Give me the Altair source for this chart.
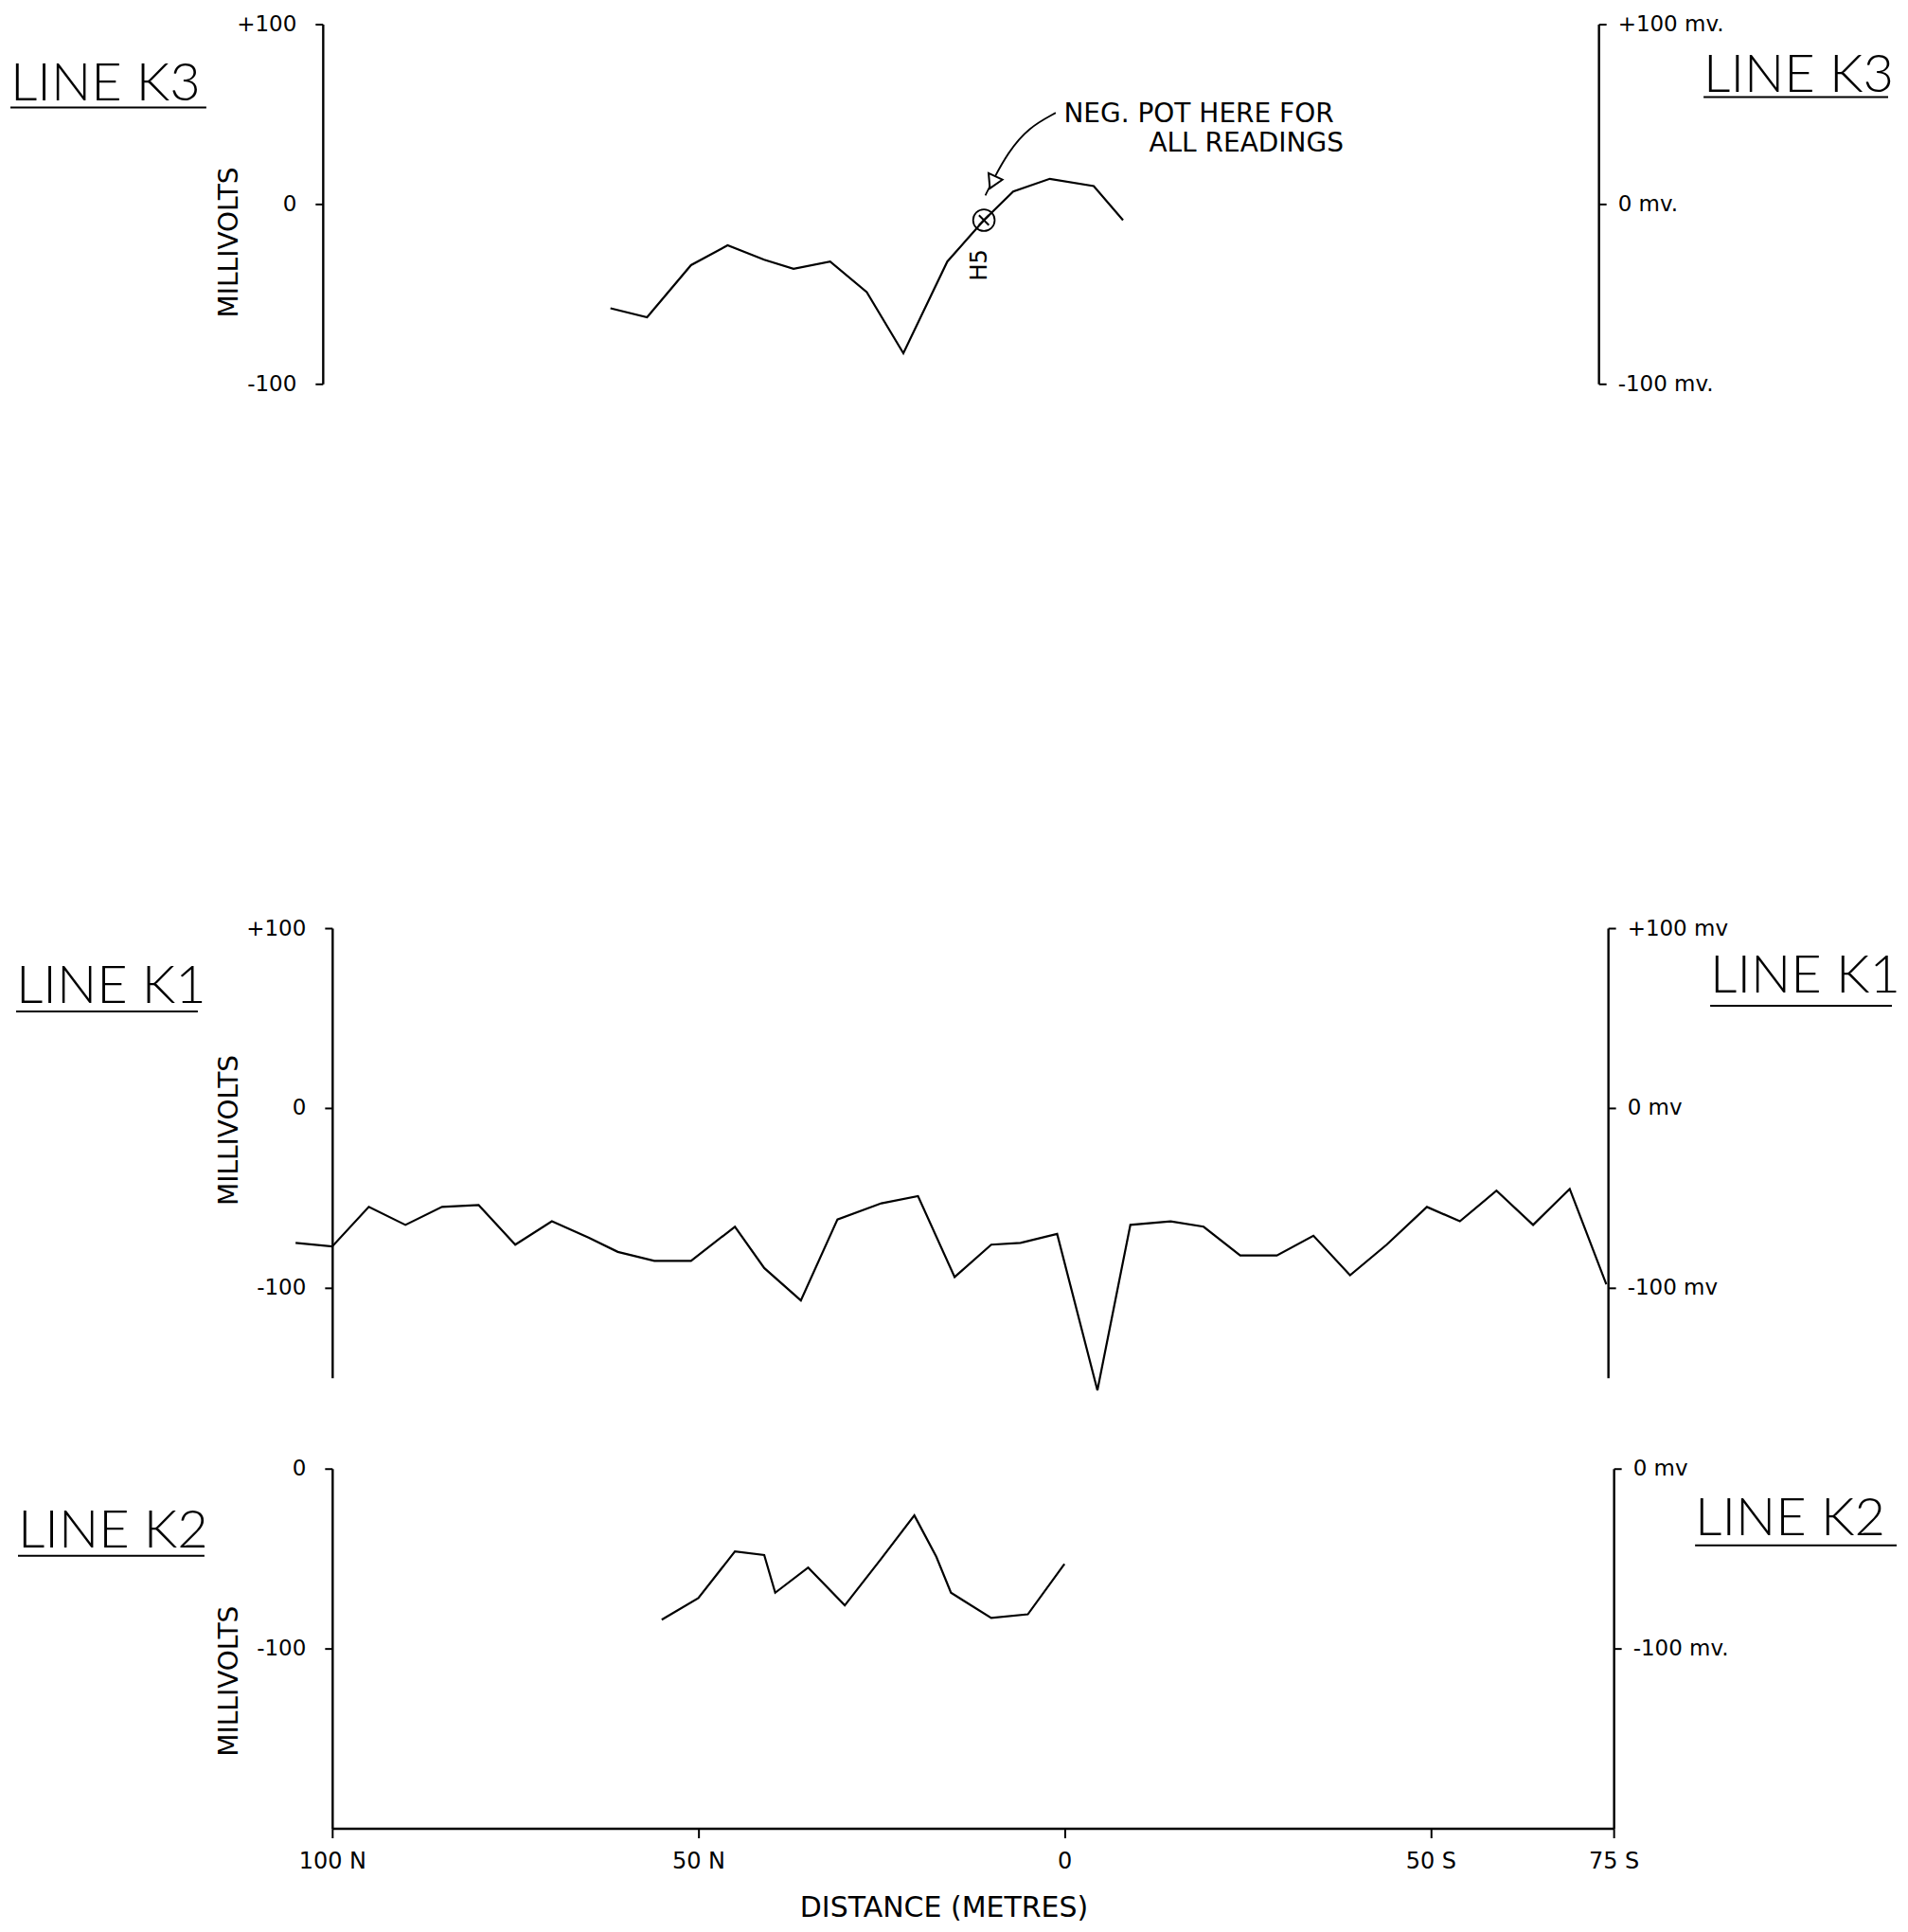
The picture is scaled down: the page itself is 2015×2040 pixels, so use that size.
import altair as alt
import pandas as pd

# ---------------- data (read from the scanned profiles) ----------------
# distance: negative = metres North of station 0, positive = metres South
k3_dist = [-62, -57, -51, -46, -41, -37, -32, -27, -22, -16, -11, -7, -2, 4, 8]
k3_mv = [-58, -63, -34, -23, -31, -36, -32, -49, -83, -32, -9, 7, 14, 10, -9]

k1_dist = [-105, -100, -95, -90, -85, -80, -75, -70, -65, -61, -56, -51, -45, -41, -36,
           -31, -25, -20, -15, -10, -6, -1, 4.5, 9, 14.5, 19, 24, 29, 34, 39, 44, 49.5,
           54, 59, 64, 69, 74]
k1_mv = [-75, -77, -55, -65, -55, -54, -76, -63, -72, -80, -85, -85, -66, -89, -107,
         -62, -53, -49, -94, -76, -75, -70, -157, -65, -63, -66, -82, -82, -71, -93, -76, -55,
         -63, -46, -65, -45, -98]

k2_dist = [-55, -50, -45, -41, -39.5, -35, -30, -25, -20.5, -17.5, -15.5, -10, -5, 0]
k2_mv = [-84, -72, -46, -48, -69, -55, -76, -50, -26, -49, -69, -83, -81, -53]

x_tick_values = [-100, -50, 0, 50, 75]
x_tick_labels = ["100 N", "50 N", "0", "50 S", "75 S"]

panel_names = ["LINE K3", "LINE K1", "LINE K2"]

k3_left_values = [100, 0, -100]
k3_left_labels = ["+100", "0", "-100"]
k3_right_labels = ["+100 mv.", "0 mv.", "-100 mv."]

k1_left_values = [100, 0, -100]
k1_left_labels = ["+100", "0", "-100"]
k1_right_labels = ["+100 mv", "0 mv", "-100 mv"]

k2_left_values = [0, -100]
k2_left_labels = ["0", "-100"]
k2_right_labels = ["0 mv", "-100 mv."]

# annotation on line K3
marker_dist = [-11]
marker_mv = [-9]
marker_label = ["H5"]
marker_label_dist = [-11.5]
marker_label_mv = [-34]
arrow_dist = [-1.2, -4.9, -7.7, -9.8, -10.8]
arrow_mv = [50.7, 42.5, 28.8, 13.0, 4.8]
arrowhead_dist = [-9.8]
arrowhead_mv = [12]
note_lines = ["NEG. POT HERE FOR", "ALL READINGS"]

# ---------------- layout ----------------
X_DOMAIN = [-100, 75]
W = 1354
FONT = "DejaVu Sans"
NAME_FONT = "Lato"


def lab_expr(values, labels):
    expr = "''"
    for v, l in reversed(list(zip(values, labels))):
        expr = f"datum.value == {v} ? '{l}' : ({expr})"
    return expr


def name_layers(name, left_pos, right_pos):
    out = []
    for (x0, base, x1, uy) in (left_pos, right_pos):
        out.append(
            alt.Chart(pd.DataFrame({"t": [name]}))
            .mark_text(align="left", baseline="alphabetic", font=NAME_FONT,
                       fontSize=56, fontWeight=300, color="black")
            .encode(x=alt.value(x0), y=alt.value(base), text="t:N")
        )
        out.append(
            alt.Chart(pd.DataFrame({"k": [0]}))
            .mark_rule(color="black", strokeWidth=2)
            .encode(x=alt.value(x0), x2=alt.value(x1), y=alt.value(uy))
        )
    return out


def make_panel(dist, mv, ydom, height, lvals, llabels, rlabels, title_y, name,
               left_pos, right_pos, left_off=0, right_off=0, xaxis=None, extras=None):
    df = pd.DataFrame({"dist": dist, "mv": mv, "i": list(range(len(dist)))})
    xs = alt.Scale(domain=X_DOMAIN, nice=False, zero=False)
    ys = alt.Scale(domain=ydom, nice=False, zero=False)
    left_axis = alt.Axis(orient="left", values=lvals, labelExpr=lab_expr(lvals, llabels),
                         title="MILLIVOLTS", titleX=-108 + left_off, titleY=title_y,
                         titleAngle=270, titleAlign="center", titleBaseline="middle",
                         tickSize=8, labelPadding=20, offset=left_off, grid=False)
    right_axis = alt.Axis(orient="right", values=lvals, labelExpr=lab_expr(lvals, rlabels),
                          title=None, tickSize=8, labelPadding=12, labelAlign="left",
                          offset=right_off, grid=False)
    xenc = alt.X("dist:Q", scale=xs, axis=xaxis)
    line = alt.Chart(df).mark_line(color="black", strokeWidth=2.2).encode(
        x=xenc, y=alt.Y("mv:Q", scale=ys, axis=left_axis), order="i:Q")
    rline = alt.Chart(df).mark_line(strokeOpacity=0).encode(
        x=xenc, y=alt.Y("mv:Q", scale=ys, axis=right_axis), order="i:Q")
    layers = [line, rline] + name_layers(name, left_pos, right_pos)
    if extras:
        layers += extras(xs, ys)
    return (alt.layer(*layers)
            .resolve_scale(x="shared", y="shared")
            .resolve_axis(x="shared", y="independent")
            .properties(width=W, height=height))


def k3_extras(xs, ys):
    xe = lambda: alt.X("dist:Q", scale=xs, axis=None)
    ye = lambda: alt.Y("mv:Q", scale=ys, axis=None)
    mdf = pd.DataFrame({"dist": marker_dist, "mv": marker_mv})
    circle = alt.Chart(mdf).mark_point(shape="circle", size=520, filled=False,
                                       color="black", strokeWidth=1.8, opacity=1).encode(x=xe(), y=ye())
    cross = alt.Chart(mdf).mark_point(shape="M-1,-1L1,1M-1,1L1,-1", size=110, filled=False,
                                      color="black", strokeWidth=2, opacity=1).encode(x=xe(), y=ye())
    hdf = pd.DataFrame({"dist": marker_label_dist, "mv": marker_label_mv, "t": marker_label})
    htext = alt.Chart(hdf).mark_text(angle=270, font=FONT, fontSize=24, color="black").encode(
        x=xe(), y=ye(), text="t:N")
    adf = pd.DataFrame({"dist": arrow_dist, "mv": arrow_mv, "i": list(range(len(arrow_dist)))})
    arrow = alt.Chart(adf).mark_line(color="black", strokeWidth=1.8, interpolate="basis").encode(
        x=xe(), y=ye(), order="i:Q")
    hd = pd.DataFrame({"dist": arrowhead_dist, "mv": arrowhead_mv})
    head = alt.Chart(hd).mark_point(shape="triangle-down", size=260, filled=True, fill="white",
                                    stroke="black", strokeWidth=2, angle=25, opacity=1).encode(x=xe(), y=ye())
    n1 = alt.Chart(pd.DataFrame({"t": [note_lines[0]]})).mark_text(
        align="left", baseline="middle", font=FONT, fontSize=28, color="black").encode(
        x=alt.value(773), y=alt.value(96), text="t:N")
    n2 = alt.Chart(pd.DataFrame({"t": [note_lines[1]]})).mark_text(
        align="left", baseline="middle", font=FONT, fontSize=28, color="black").encode(
        x=alt.value(863), y=alt.value(127), text="t:N")
    return [arrow, head, circle, cross, htext, n1, n2]


k3 = make_panel(k3_dist, k3_mv, [-100, 100], 380, k3_left_values, k3_left_labels, k3_right_labels,
                230, panel_names[0], (-340, 81, -133, 88), (1449, 72, 1644, 77),
                left_off=10, right_off=-16, extras=k3_extras)

k1 = make_panel(k1_dist, k1_mv, [-150, 100], 475, k1_left_values, k1_left_labels, k1_right_labels,
                213, panel_names[1], (-334, 79, -142, 88), (1456, 68, 1648, 82),
                left_off=0, right_off=-6)

x_axis = alt.Axis(values=x_tick_values, labelExpr=lab_expr(x_tick_values, x_tick_labels),
                  title="DISTANCE (METRES)", titleX=646, titleY=84, titleAlign="center",
                  titleBaseline="middle", titleFontSize=30, tickSize=10, labelPadding=13,
                  labelFontSize=24, labelFlush=False, grid=False)

k2 = make_panel(k2_dist, k2_mv, [-200, 0], 380, k2_left_values, k2_left_labels, k2_right_labels,
                224, panel_names[2], (-332, 83, -135, 92), (1440, 70, 1653, 81),
                left_off=0, right_off=0, xaxis=x_axis)

inner = alt.vconcat(k1, k2, spacing=96, bounds="flush").resolve_scale(x="independent", y="independent")
chart = (
    alt.vconcat(k3, inner, spacing=575, bounds="flush")
    .resolve_scale(x="independent", y="independent")
    .properties(padding={"left": 2, "top": 6, "right": 0, "bottom": 0}, background="white")
    .configure_view(stroke=None)
    .configure_axis(domainColor="black", domainWidth=2.4, tickColor="black", tickWidth=2,
                    labelColor="black", labelFont=FONT, labelFontSize=23,
                    titleFont=FONT, titleFontSize=28, titleFontWeight="normal", titleColor="black")
)

chart.save("out.html", embed_options={"renderer": "svg", "actions": False})
